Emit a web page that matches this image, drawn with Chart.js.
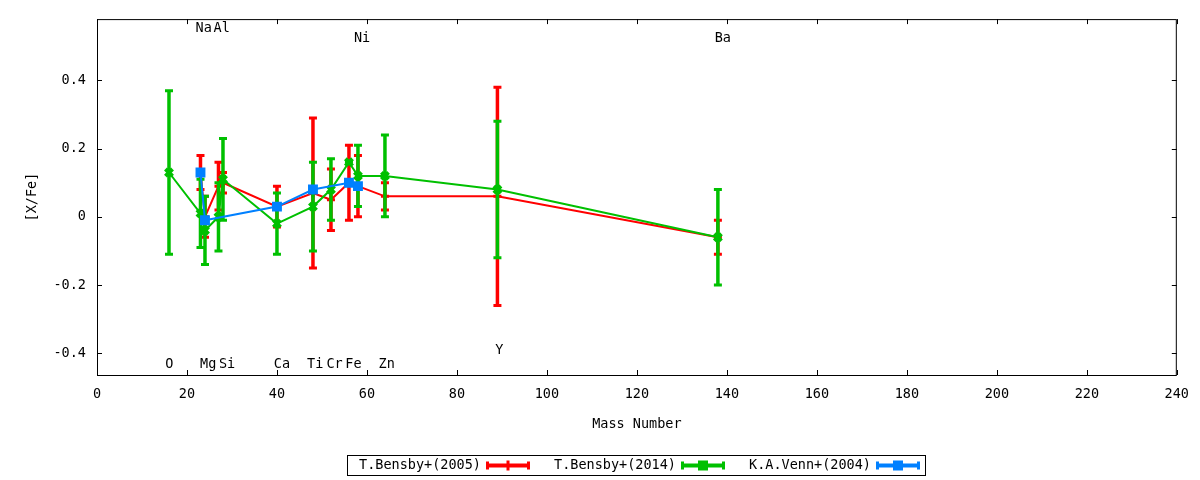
<!DOCTYPE html>
<html>
<head>
  <title>[X/Fe] vs Mass Number</title>
  <script src="https://cdn.jsdelivr.net/npm/chart.js"></script>
  <style>
    body { margin: 0; background: #fff; }
  </style>
</head>
<body>
  <canvas id="abund" width="1200" height="480"></canvas>

  <script>
    // T.Bensby+(2005)
    const bensby05Mass = [23, 24, 27, 28, 40, 48, 52, 56, 58, 64, 89, 138];
    const bensby05Val  = [0.13, 0.00, 0.09, 0.10, 0.03, 0.07, 0.05, 0.10, 0.09, 0.06, 0.06, -0.06];
    const bensby05Err  = [0.05, 0.06, 0.07, 0.03, 0.06, 0.22, 0.09, 0.11, 0.09, 0.04, 0.32, 0.05];

    // T.Bensby+(2014)
    const bensby14Mass = [16, 23, 24, 27, 28, 40, 48, 52, 56, 58, 64, 89, 138];
    const bensby14Val  = [0.13, 0.01, -0.04, 0.00, 0.11, -0.02, 0.03, 0.08, 0.16, 0.12, 0.12, 0.08, -0.06];
    const bensby14Err  = [0.24, 0.10, 0.10, 0.10, 0.12, 0.09, 0.13, 0.09, 0.00, 0.09, 0.12, 0.20, 0.14];

    // K.A.Venn+(2004)
    const vennMass = [23, 24, 40, 48, 56, 58];
    const vennVal  = [0.13, -0.01, 0.03, 0.08, 0.10, 0.09];
    const vennErr  = [0, 0, 0, 0, 0, 0];

    // element labels along top and bottom of the frame
    const elemNames = ['Na', 'Al', 'Ni', 'Ba', 'O', 'Mg', 'Si', 'Ca', 'Ti', 'Cr', 'Fe', 'Zn', 'Y'];
    const elemX     = [23.7, 27.7, 58.9, 139.1, 16.1, 24.7, 28.9, 41.1, 48.5, 52.8, 57.0, 64.4, 89.4];
    const elemY     = [0.551, 0.551, 0.523, 0.523, -0.432, -0.432, -0.432, -0.432, -0.432, -0.432, -0.432, -0.432, -0.391];

    const xTicks = [0, 20, 40, 60, 80, 100, 120, 140, 160, 180, 200, 220, 240];
    const yTicks = [-0.4, -0.2, 0, 0.2, 0.4];

    const FONT = '13.5px "DejaVu Sans Mono"';
    const RED = '#ff0000', GREEN = '#00c000', BLUE = '#0080ff';

    function pts(xs, ys) {
      return xs.map((m, i) => ({ x: m, y: ys[i] }));
    }

    // vertical error bars, drawn just before each dataset so stacking matches gnuplot
    const errorBars = {
      id: 'errorBars',
      beforeDatasetDraw(chart, args) {
        const ds = chart.data.datasets[args.index];
        const xs = chart.scales.x, ys = chart.scales.y;
        const ctx = chart.ctx;
        const a = chart.chartArea;
        ctx.save();
        ctx.beginPath();
        ctx.rect(a.left, a.top, a.right - a.left, a.bottom - a.top);
        ctx.clip();
        ctx.strokeStyle = ds.borderColor;
        ds.data.forEach((p, i) => {
          const e = ds.errors[i];
          const px = xs.getPixelForValue(p.x);
          const top = ys.getPixelForValue(p.y + e);
          const bot = ys.getPixelForValue(p.y - e);
          ctx.lineWidth = 3.5;
          ctx.beginPath();
          ctx.moveTo(px, top); ctx.lineTo(px, bot);
          ctx.stroke();
          ctx.lineWidth = 3;
          ctx.beginPath();
          ctx.moveTo(px - 4, top); ctx.lineTo(px + 4, top);
          ctx.moveTo(px - 4, bot); ctx.lineTo(px + 4, bot);
          ctx.stroke();
        });
        ctx.restore();
      }
    };

    // frame with inward ticks on all four sides
    const frame = {
      id: 'frame',
      beforeDatasetsDraw(chart) {
        const ctx = chart.ctx, a = chart.chartArea;
        const xs = chart.scales.x, ys = chart.scales.y;
        ctx.save();
        ctx.strokeStyle = '#000';
        ctx.lineWidth = 1;
        ctx.strokeRect(a.left + 0.5, a.top + 0.5, a.right - a.left - 1, a.bottom - a.top);
        ctx.beginPath();
        xTicks.forEach(v => {
          const px = Math.round(xs.getPixelForValue(v)) + 0.5;
          ctx.moveTo(px, a.bottom); ctx.lineTo(px, a.bottom - 5);
          ctx.moveTo(px, a.top); ctx.lineTo(px, a.top + 5);
        });
        yTicks.forEach(v => {
          const py = Math.round(ys.getPixelForValue(v)) + 0.5;
          ctx.moveTo(a.left, py); ctx.lineTo(a.left + 5, py);
          ctx.moveTo(a.right, py); ctx.lineTo(a.right - 5, py);
        });
        ctx.stroke();
        ctx.restore();
      },
      afterDraw(chart) {
        const ctx = chart.ctx;
        const xs = chart.scales.x, ys = chart.scales.y;
        ctx.save();
        ctx.font = FONT;
        ctx.fillStyle = '#000';
        ctx.textAlign = 'center';
        ctx.textBaseline = 'middle';
        elemNames.forEach((n, i) => {
          ctx.fillText(n, xs.getPixelForValue(elemX[i]), ys.getPixelForValue(elemY[i]));
        });

        // gnuplot-style key: text, then a sample errorbar line
        const boxL = 347, boxT = 455, boxW = 578, boxH = 20, step = 195;
        ctx.lineWidth = 1;
        ctx.strokeStyle = '#000';
        ctx.strokeRect(boxL + 0.5, boxT + 0.5, boxW, boxH);
        const cy = boxT + boxH / 2 + 0.5;
        chart.data.datasets.forEach((ds, i) => {
          const x0 = boxL + i * step;
          ctx.fillStyle = '#000';
          ctx.textAlign = 'right';
          ctx.fillText(ds.label, x0 + 134, cy);
          const s0 = x0 + 139, s1 = x0 + 183;
          ctx.strokeStyle = ds.borderColor;
          ctx.fillStyle = ds.borderColor;
          ctx.lineWidth = 4;
          ctx.beginPath();
          ctx.moveTo(s0, cy); ctx.lineTo(s1, cy);
          ctx.stroke();
          ctx.lineWidth = 3;
          ctx.beginPath();
          ctx.moveTo(s0 + 1.5, cy - 4); ctx.lineTo(s0 + 1.5, cy + 4);
          ctx.moveTo(s1 - 1.5, cy - 4); ctx.lineTo(s1 - 1.5, cy + 4);
          ctx.stroke();
          const mx = (s0 + s1) / 2;
          if (ds.pointStyle === 'rect') {
            ctx.fillRect(mx - 5, cy - 5, 10, 10);
          } else if (ds.pointStyle === 'crossRot') {
            ctx.fillRect(mx - 5, cy - 5, 10, 10);
          } else {
            ctx.beginPath();
            ctx.moveTo(mx, cy - 5); ctx.lineTo(mx, cy + 5);
            ctx.stroke();
          }
        });
        ctx.restore();
      }
    };

    const chart = new Chart(document.getElementById('abund'), {
      type: 'line',
      data: {
        datasets: [
          {
            label: 'T.Bensby+(2005)',
            data: pts(bensby05Mass, bensby05Val),
            errors: bensby05Err,
            borderColor: RED,
            backgroundColor: RED,
            borderWidth: 2,
            pointStyle: 'cross',
            pointRadius: 4,
            pointBorderWidth: 3,
            order: 3
          },
          {
            label: 'T.Bensby+(2014)',
            data: pts(bensby14Mass, bensby14Val),
            errors: bensby14Err,
            borderColor: GREEN,
            backgroundColor: GREEN,
            borderWidth: 2,
            pointStyle: 'crossRot',
            pointRadius: 5,
            pointBorderWidth: 4,
            order: 2
          },
          {
            label: 'K.A.Venn+(2004)',
            data: pts(vennMass, vennVal),
            errors: vennErr,
            borderColor: BLUE,
            backgroundColor: BLUE,
            borderWidth: 2,
            pointStyle: 'rect',
            pointRadius: 7,
            pointBorderWidth: 0,
            order: 1
          }
        ]
      },
      options: {
        responsive: false,
        animation: false,
        events: [],
        layout: { padding: { left: 0, right: 23, top: 17, bottom: 0 } },
        elements: { line: { tension: 0, fill: false } },
        plugins: {
          legend: { display: false },
          tooltip: { enabled: false }
        },
        scales: {
          x: {
            type: 'linear',
            min: 0,
            max: 240,
            grid: { display: false, drawTicks: false },
            border: { display: false },
            afterBuildTicks: s => { s.ticks = xTicks.map(v => ({ value: v })); },
            afterFit: s => { s.height = 105; },
            ticks: {
              color: '#000',
              font: { family: 'DejaVu Sans Mono', size: 13.5 },
              padding: 11,
              maxRotation: 0,
              callback: v => String(v)
            },
            title: {
              display: true,
              text: 'Mass Number',
              color: '#000',
              font: { family: 'DejaVu Sans Mono', size: 13.5 },
              padding: { top: 0, bottom: 47 }
            }
          },
          y: {
            type: 'linear',
            min: -0.464,
            max: 0.58,
            grid: { display: false, drawTicks: false },
            border: { display: false },
            afterBuildTicks: s => { s.ticks = yTicks.map(v => ({ value: v })); },
            afterFit: s => { s.width = 97; },
            ticks: {
              color: '#000',
              font: { family: 'DejaVu Sans Mono', size: 13.5 },
              padding: 11,
              callback: v => (Math.abs(v) < 1e-9 ? '0' : v.toFixed(1))
            },
            title: {
              display: true,
              text: '[X/Fe]',
              color: '#000',
              font: { family: 'DejaVu Sans Mono', size: 13.5 },
              padding: { top: 24, bottom: 0 }
            }
          }
        }
      },
      plugins: [errorBars, frame]
    });
  </script>
</body>
</html>
